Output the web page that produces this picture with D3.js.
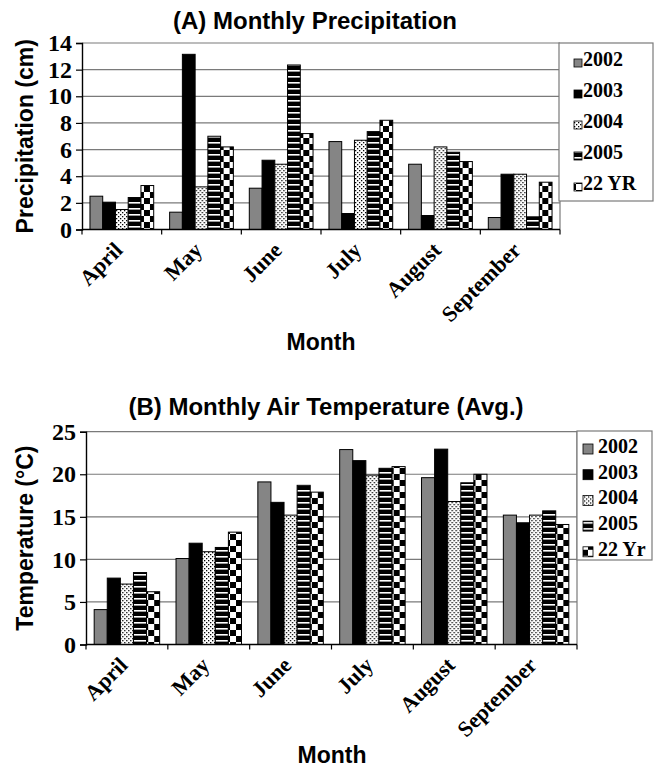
<!DOCTYPE html>
<html><head><meta charset="utf-8">
<script src="https://cdn.jsdelivr.net/npm/d3@7"></script>
<style>
body{margin:0;background:#fff;}
svg{display:block;}
</style></head>
<body>
<svg id="c" width="657" height="768"></svg>
<script>
const months = ["April","May","June","July","August","September"];
const seriesA = ["2002","2003","2004","2005","22 YR"];
const seriesB = ["2002","2003","2004","2005","22 Yr"];
// Precipitation (cm)
const precip2002 = [2.5, 1.3, 3.1, 6.6, 4.9, 0.9];
const precip2003 = [2.05, 13.15, 5.2, 1.2, 1.05, 4.15];
const precip2004 = [1.5, 3.2, 4.9, 6.7, 6.2, 4.15];
const precip2005 = [2.4, 7.0, 12.35, 7.35, 5.8, 0.95];
const precip22yr = [3.3, 6.2, 7.2, 8.2, 5.1, 3.55];
// Air temperature (°C)
const temp2002 = [4.1, 10.1, 19.1, 22.9, 19.6, 15.2];
const temp2003 = [7.8, 11.9, 16.7, 21.6, 22.95, 14.3];
const temp2004 = [7.1, 10.9, 15.2, 19.9, 16.8, 15.2];
const temp2005 = [8.45, 11.4, 18.7, 20.7, 19.0, 15.7];
const temp22yr = [6.2, 13.2, 17.9, 20.9, 20.0, 14.1];
const ticksA = [0,2,4,6,8,10,12,14];
const ticksB = [0,5,10,15,20,25];

const svg = d3.select("#c");
const defs = svg.append("defs");
// patterns
const pDots = defs.append("pattern").attr("id","pDots").attr("patternUnits","userSpaceOnUse").attr("width",4).attr("height",4);
pDots.append("rect").attr("width",4).attr("height",4).attr("fill","#fff");
pDots.append("rect").attr("x",0).attr("y",0).attr("width",1.3).attr("height",1.3).attr("fill","#000");
pDots.append("rect").attr("x",2).attr("y",2).attr("width",1.3).attr("height",1.3).attr("fill","#000");
const pStripe = defs.append("pattern").attr("id","pStripe").attr("patternUnits","userSpaceOnUse").attr("width",6).attr("height",6);
pStripe.append("rect").attr("width",6).attr("height",6).attr("fill","#000");
pStripe.append("rect").attr("y",4).attr("width",6).attr("height",1.6).attr("fill","#fff");
const pCheck = defs.append("pattern").attr("id","pCheck").attr("patternUnits","userSpaceOnUse").attr("width",12).attr("height",12);
pCheck.append("rect").attr("width",12).attr("height",12).attr("fill","#fff");
pCheck.append("rect").attr("x",0).attr("y",0).attr("width",6).attr("height",6).attr("fill","#000");
pCheck.append("rect").attr("x",6).attr("y",6).attr("width",6).attr("height",6).attr("fill","#000");
const fills = ["#858585","#000","url(#pDots)","url(#pStripe)","url(#pCheck)"];

const sansB = "'Liberation Sans', Arial, sans-serif";
const serifB = "'Liberation Serif', 'Times New Roman', serif";

function chart(cfg){
  const {left,right,top,bottom,ymax,ticks,series,values,title,titleX,titleY,ytitle,ytitleX,xtitleX,xtitleY,
         leg, legRowY, legStep, legSw, legTextX} = cfg;
  const g = svg.append("g");
  const x0 = d3.scaleBand().domain(months).range([left,right]).paddingInner(0.2).paddingOuter(0.1);
  const x1 = d3.scaleBand().domain(series).range([0,x0.bandwidth()]);
  const y = d3.scaleLinear().domain([0,ymax]).range([bottom,top]);

  // gridlines
  g.append("g").selectAll("line").data(ticks.filter(t=>t>0)).join("line")
    .attr("x1",left).attr("x2",right).attr("y1",d=>y(d)).attr("y2",d=>y(d))
    .attr("stroke","#7a7a7a").attr("stroke-width",1.2);
  // right frame
  g.append("line").attr("x1",right).attr("x2",right).attr("y1",y(ymax)).attr("y2",y(0))
    .attr("stroke","#7a7a7a").attr("stroke-width",1.2);

  // bars
  const rows = months.map((m,i)=>({m, vals: series.map((s,j)=>({s,j,v:values[j][i]}))}));
  const grp = g.append("g").selectAll("g").data(rows).join("g")
    .attr("transform",d=>`translate(${x0(d.m)},0)`);
  grp.selectAll("rect").data(d=>d.vals).join("rect")
    .attr("x",d=>x1(d.s)).attr("width",x1.bandwidth())
    .attr("y",d=>y(d.v)).attr("height",d=>y(0)-y(d.v))
    .attr("fill",d=>fills[d.j]).attr("stroke","#000").attr("stroke-width",1);

  // y axis
  const ya = g.append("g").attr("transform",`translate(${left},0)`)
    .call(d3.axisLeft(y).tickValues(ticks).tickSize(6).tickPadding(4).tickFormat(d3.format("d")));
  ya.attr("font-family",serifB);
  ya.select(".domain").attr("stroke","#000").attr("stroke-width",1.4);
  ya.selectAll(".tick line").attr("stroke","#000").attr("stroke-width",1.2);
  ya.selectAll("text").attr("font-family",serifB).attr("font-weight","bold").attr("font-size",24).attr("fill","#000");

  // x axis line + boundary ticks
  const step = x0.step();
  const bounds = months.map(m=>x0(m)-step*x0.paddingOuter()).concat([right]);
  g.append("line").attr("x1",left).attr("x2",right).attr("y1",y(0)).attr("y2",y(0))
    .attr("stroke","#000").attr("stroke-width",1.4);
  g.append("g").selectAll("line").data(bounds).join("line")
    .attr("x1",d=>d).attr("x2",d=>d).attr("y1",y(0)).attr("y2",y(0)+5)
    .attr("stroke","#000").attr("stroke-width",1.2);
  g.append("g").selectAll("text").data(months).join("text")
    .attr("transform",d=>`translate(${x0(d)+x0.bandwidth()/2+2},${y(0)+22}) rotate(-45)`)
    .attr("text-anchor","end")
    .attr("font-family",serifB).attr("font-weight","bold").attr("font-size",22)
    .text(d=>d);

  // titles
  g.append("text").attr("x",titleX).attr("y",titleY).attr("text-anchor","middle")
    .attr("font-family",sansB).attr("font-weight","bold").attr("font-size",24).text(title);
  g.append("text").attr("transform",`translate(${ytitleX},${(top+bottom)/2}) rotate(-90)`)
    .attr("text-anchor","middle").attr("font-family",sansB).attr("font-weight","bold").attr("font-size",23).text(ytitle);
  g.append("text").attr("x",xtitleX).attr("y",xtitleY).attr("text-anchor","middle")
    .attr("font-family",sansB).attr("font-weight","bold").attr("font-size",23).text("Month");

  // legend
  g.append("rect").attr("x",leg.x).attr("y",leg.y).attr("width",leg.w).attr("height",leg.h)
    .attr("fill","#fff").attr("stroke","#7a7a7a").attr("stroke-width",1.2);
  const li = g.append("g").selectAll("g").data(series).join("g")
    .attr("transform",(d,i)=>`translate(0,${legRowY + i*legStep})`);
  li.append("rect").attr("x",leg.swX).attr("y",-legSw+1).attr("width",legSw).attr("height",legSw)
    .attr("fill",(d,i)=>fills[i]).attr("stroke","#000").attr("stroke-width",0.8);
  li.append("text").attr("x",legTextX).attr("y",0)
    .attr("font-family",serifB).attr("font-weight","bold").attr("font-size",20).text(d=>d);
}

chart({left:82,right:560,top:43,bottom:229.5,ymax:14,ticks:ticksA,series:seriesA,
  values:[precip2002,precip2003,precip2004,precip2005,precip22yr],
  title:"(A) Monthly Precipitation",titleX:315,titleY:29,ytitle:"Precipitation (cm)",ytitleX:33,xtitleX:321,xtitleY:350,
  leg:{x:559,y:43,w:94,h:158,swX:574},legRowY:66,legStep:31,legSw:8,legTextX:583});

chart({left:86,right:577,top:431.7,bottom:644.5,ymax:25,ticks:ticksB,series:seriesB,
  values:[temp2002,temp2003,temp2004,temp2005,temp22yr],
  title:"(B) Monthly Air Temperature (Avg.)",titleX:326,titleY:415,ytitle:"Temperature (°C)",ytitleX:33,xtitleX:332,xtitleY:763,
  leg:{x:577,y:431,w:75,h:129,swX:583},legRowY:453,legStep:25.7,legSw:10,legTextX:598});
</script>
</body></html>
